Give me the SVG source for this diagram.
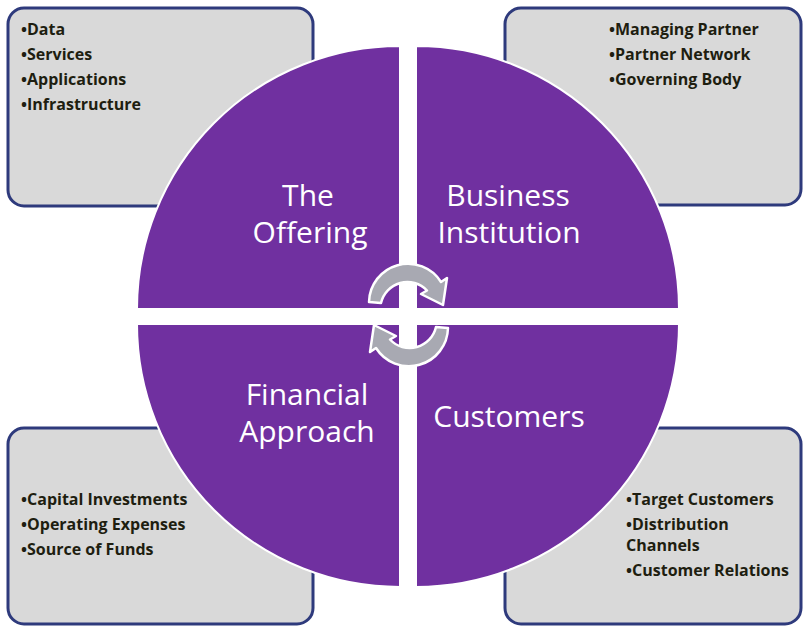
<svg xmlns="http://www.w3.org/2000/svg" width="803" height="627" viewBox="0 0 803 627">
<defs>
<style>
.box{fill:#D9D9D9;stroke:#2E3A7C;stroke-width:3}
.quad{fill:#7030A0;stroke:#FFFFFF;stroke-width:2}
.qt{font-family:"Open Sans","Liberation Sans",sans-serif;font-size:30px;fill:#FFFFFF;text-anchor:middle}
.bt{font-family:"Open Sans","Liberation Sans",sans-serif;font-size:16px;font-weight:700;fill:#1E1E10}
.arr{fill:#A8A9B2;stroke:#FFFFFF;stroke-width:2.5;stroke-linejoin:round}
</style>
<path id="cyc" d="M369,302 A39,39 0 0 1 441,282 L447,278 L443,305 L421,294 L427,290.5 A27,27 0 0 0 381,303 Z"/>
</defs>
<rect width="803" height="627" fill="#FFFFFF"/>
<g id="box-offering">
<rect class="box" x="8" y="8" width="305" height="198" rx="16"/>
<text class="bt" x="21" y="35">•Data</text>
<text class="bt" x="21" y="60">•Services</text>
<text class="bt" x="21" y="85">•Applications</text>
<text class="bt" x="21" y="110">•Infrastructure</text>
</g>
<g id="box-business">
<rect class="box" x="505" y="8" width="296" height="197" rx="16"/>
<text class="bt" x="609" y="35">•Managing Partner</text>
<text class="bt" x="609" y="60">•Partner Network</text>
<text class="bt" x="609" y="85">•Governing Body</text>
</g>
<g id="box-financial">
<rect class="box" x="8" y="428" width="305" height="196" rx="16"/>
<text class="bt" x="21" y="505">•Capital Investments</text>
<text class="bt" x="21" y="530">•Operating Expenses</text>
<text class="bt" x="21" y="555">•Source of Funds</text>
</g>
<g id="box-customers">
<rect class="box" x="505" y="428" width="296" height="196" rx="16"/>
<text class="bt" x="626" y="505">•Target Customers</text>
<text class="bt" x="626" y="530">•Distribution</text>
<text class="bt" x="626" y="551">Channels</text>
<text class="bt" x="626" y="576">•Customer Relations</text>
</g>
<g id="q-offering">
<path class="quad" d="M400,309 L137,309 A263,263 0 0 1 400,46 Z"/>
<text class="qt" x="308" y="206">The</text>
<text class="qt" x="310" y="243">Offering</text>
</g>
<g id="q-business">
<path class="quad" d="M416,309 L416,46 A263,263 0 0 1 679,309 Z"/>
<text class="qt" x="508" y="206">Business</text>
<text class="qt" x="509" y="243">Institution</text>
</g>
<g id="q-customers">
<path class="quad" d="M416,324 L679,324 A263,263 0 0 1 416,587 Z"/>
<text class="qt" x="509" y="427">Customers</text>
</g>
<g id="q-financial">
<path class="quad" d="M400,324 L400,587 A263,263 0 0 1 137,324 Z"/>
<text class="qt" x="307" y="405">Financial</text>
<text class="qt" x="307" y="442">Approach</text>
</g>
<g id="connectors">
<use href="#cyc" class="arr"/>
<use href="#cyc" class="arr" transform="rotate(180 408.5 315)"/>
</g>
</svg>
